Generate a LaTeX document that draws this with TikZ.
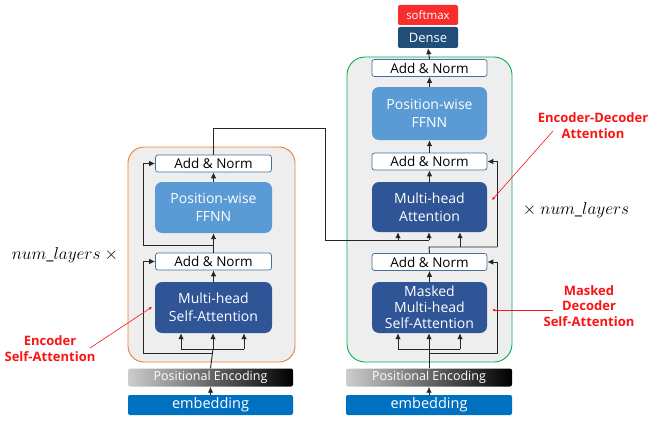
\documentclass[tikz,border=0pt]{standalone}
\usepackage{fontspec}
\setmainfont{Open Sans}
\usetikzlibrary{arrows.meta}
\definecolor{layerGray}{RGB}{238,238,238}
\definecolor{encOrange}{RGB}{237,125,49}
\definecolor{decGreen}{RGB}{0,176,80}
\definecolor{ffnnBlue}{RGB}{91,155,213}
\definecolor{mhBlue}{RGB}{47,85,151}
\definecolor{normEdge}{RGB}{65,113,156}
\definecolor{embBlue}{RGB}{0,112,192}
\definecolor{denseBlue}{RGB}{31,78,121}
\definecolor{softRed}{RGB}{250,45,45}
\definecolor{labelRed}{RGB}{250,20,20}
\definecolor{peLight}{RGB}{205,205,205}
\tikzset{
  layerbg/.style = {fill=layerGray, rounded corners=16pt, line width=0.9pt, inner sep=0pt},
  normbox/.style = {draw=normEdge, fill=white, rounded corners=2.5pt, line width=0.7pt,
                    minimum width=116pt, minimum height=17pt, inner sep=0pt,
                    font=\fontsize{13.5}{15}\selectfont},
  ffbox/.style   = {fill=ffnnBlue, text=white, rounded corners=7pt, minimum width=117pt,
                    inner sep=0pt, align=center, font=\fontsize{14}{18}\selectfont},
  mhbox/.style   = {ffbox, fill=mhBlue},
  pebar/.style   = {left color=peLight, right color=black, text=white, rounded corners=2pt,
                    minimum width=165pt, minimum height=18pt, inner sep=0pt,
                    font=\fontsize{12.5}{14}\selectfont},
  embbar/.style  = {fill=embBlue, text=white, rounded corners=2pt, minimum width=165pt,
                    minimum height=20pt, inner sep=0pt, font=\fontsize{14.5}{16}\selectfont},
  arr/.style     = {-{Latex[length=6pt,width=5.5pt]}, line width=0.9pt, black!85},
  wire/.style    = {line width=0.9pt, black!85},
  redlbl/.style  = {text=labelRed, font=\bfseries\fontsize{13}{16}\selectfont, align=center},
  ptr/.style     = {draw=labelRed, line width=0.6pt, -{Latex[length=3pt,width=3pt]}},
}

\begin{document}
\begin{tikzpicture}[x=1pt, y=-1pt]
\useasboundingbox (0,0) rectangle (656,428);

% ── ENCODER (left stack) ─────────────────────────────────────
\node[layerbg, draw=encOrange, minimum width=167pt, minimum height=215pt] (encBox) at (211.5,254.5) {};
\node[normbox] (encNorm2) at (213.5,163.5) {Add \& Norm};
\node[ffbox, minimum height=51pt] (encFF) at (213.5,207.5) {Position-wise\\FFNN};
\node[normbox] (encNorm1) at (213.5,261.5) {Add \& Norm};
\node[mhbox, minimum height=51pt] (encMH) at (213.5,307.5) {Multi-head\\Self-Attention};
\node[pebar] (encPE) at (210.5,377.5) {Positional Encoding};
\node[embbar] (encEmb) at (210.5,405) {embedding};

% stack arrows
\foreach \a/\b in {encEmb/encPE, encMH/encNorm1, encNorm1/encFF, encFF/encNorm2}
  \draw[arr] (\a.north) -- (\b.south);

% input split into three heads + residuals
\coordinate (encSplit)  at (213,349);
\coordinate (encSplitL) at (181,349);
\coordinate (encSplitR) at (244,349);
\coordinate (encTap)    at (213,353);
\coordinate (encRes1)   at (143,353);
\coordinate (encMid)    at (213,245);
\coordinate (encRes2)   at (143,245);
\draw[wire] (encPE.north) -- (encSplit);
\draw[wire] (encSplitL) -- (encSplitR);
\foreach \p in {encSplitL,encSplit,encSplitR}
  \draw[arr] (\p) -- (\p |- encMH.south);
\draw[arr] (encTap) -- (encRes1) |- (encNorm1.west);
\draw[arr] (encMid) -- (encRes2) |- (encNorm2.west);

% ── DECODER (right stack) ────────────────────────────────────
\node[layerbg, draw=decGreen, rounded corners=18pt, minimum width=165pt, minimum height=305pt] (decBox) at (429.5,209.5) {};
\node[normbox, minimum width=115pt] (decNorm3) at (429.5,68) {Add \& Norm};
\node[ffbox, minimum width=115pt, minimum height=53pt] (decFF) at (429.5,113.5) {Position-wise\\FFNN};
\node[normbox, minimum width=115pt] (decNorm2) at (429.5,161.5) {Add \& Norm};
\node[mhbox, minimum width=115pt, minimum height=50pt] (decMH) at (429.5,207) {Multi-head\\Attention};
\node[normbox, minimum width=115pt] (decNorm1) at (429.5,262) {Add \& Norm};
\node[mhbox, minimum width=115pt, minimum height=51pt, font=\fontsize{14}{16}\selectfont] (decMM) at (429.5,307.5) {Masked\\Multi-head\\Self-Attention};
\node[pebar, minimum width=166pt] (decPE) at (429,377.5) {Positional Encoding};
\node[embbar, minimum width=166pt] (decEmb) at (429,405) {embedding};
\node[fill=denseBlue, text=white, rounded corners=2pt, minimum width=60pt, minimum height=21pt,
      inner sep=0pt, font=\fontsize{13}{15}\selectfont] (dense) at (428,37.5) {Dense};
\node[fill=softRed, text=white, rounded corners=2pt, minimum width=60pt, minimum height=20pt,
      inner sep=0pt, font=\fontsize{11.5}{13}\selectfont] (softmax) at (428,15) {softmax};

% stack arrows
\foreach \a/\b in {decEmb/decPE, decMM/decNorm1, decMH/decNorm2, decNorm2/decFF, decFF/decNorm3, decNorm3/dense}
  \draw[arr] (\a.north) -- (\b.south);

% masked self-attention inputs + residual
\coordinate (decSplit)  at (429,349);
\coordinate (decSplitL) at (398,349);
\coordinate (decSplitR) at (460,349);
\coordinate (decTap)    at (429,353);
\coordinate (decRes1)   at (497,353);
\draw[wire] (decPE.north) -- (decSplit);
\draw[wire] (decSplitL) -- (decSplitR);
\foreach \p in {decSplitL,decSplit,decSplitR}
  \draw[arr] (\p) -- (\p |- decMM.south);
\draw[arr] (decTap) -- (decRes1) |- (decNorm1.east);

% query path + residual into middle Add & Norm
\coordinate (decQA)   at (429,247);
\coordinate (decQ)    at (460,247);
\coordinate (decRes2) at (497,247);
\draw[wire] (decNorm1.north) -- (decQA) -- (decRes2);
\draw[arr] (decQ) -- (decQ |- decMH.south);
\draw[arr] (decRes2) |- (decNorm2.east);

% encoder output -> keys / values
\coordinate (encOutB) at (325,128);
\coordinate (encOutC) at (325,240);
\coordinate (decK)    at (398,240);
\coordinate (decV)    at (429,240);
\draw[wire] (encNorm2.north) |- (encOutB) -- (encOutC) -- (decV);
\foreach \p in {decK,decV}
  \draw[arr] (\p) -- (\p |- decMH.south);

% ── LABELS ───────────────────────────────────────────────────
\node[font=\fontsize{16}{18}\selectfont] (numL) at (65,255) {$num\_layers$ $\times$};
\node[font=\fontsize{16}{18}\selectfont] (numR) at (576,210) {$\times$ $num\_layers$};

\node[redlbl] (encLbl) at (50,349) {Encoder\\Self-Attention};
\coordinate (encLblTip) at (90,348);
\coordinate (encPt) at (152,307);
\draw[ptr] (encLblTip) -- (encPt);

\node[redlbl] (edLbl) at (593,126) {Encoder-Decoder\\Attention};
\coordinate (edLblTip) at (553,131);
\coordinate (edPt) at (492,200);
\draw[ptr] (edLblTip) -- (edPt);

\node[redlbl, font=\bfseries\fontsize{13}{15.5}\selectfont] (mdLbl) at (589,306) {Masked\\Decoder\\Self-Attention};
\coordinate (mdLblTip) at (553,310);
\coordinate (mdPt) at (492,310);
\draw[ptr] (mdLblTip) -- (mdPt);

\end{tikzpicture}
\end{document}
